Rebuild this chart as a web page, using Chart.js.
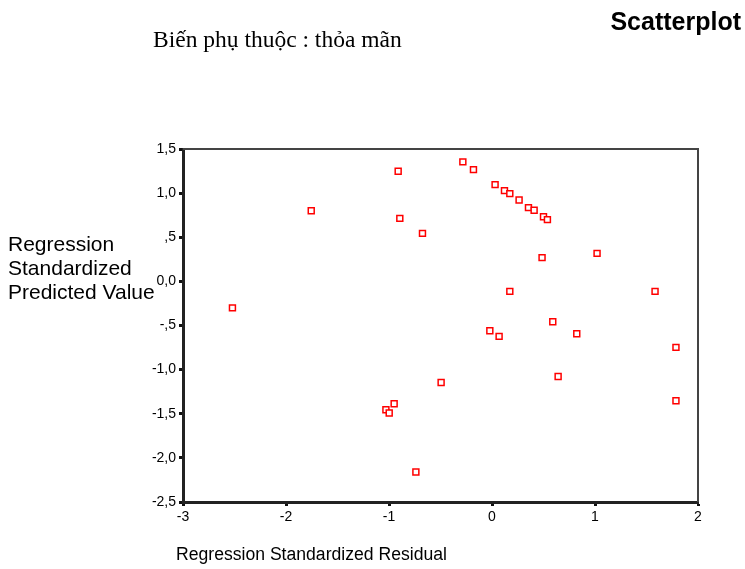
<!DOCTYPE html>
<html>
<head>
<meta charset="utf-8">
<script src="https://cdn.jsdelivr.net/npm/chart.js@4.4.0/dist/chart.umd.min.js"></script>
<style>
  body { margin: 0; background: #fff; }
  #wrap { width: 745px; height: 569px; }
</style>
</head>
<body>
<div id="wrap"><canvas id="scatter" width="745" height="569"></canvas></div>
<script>
// Regression Standardized Residual (x) vs Regression Standardized Predicted Value (y)
const residuals = [
  -2.52, -1.755, -0.911, -0.895, -0.675, -0.283, -0.18, 0.03, 0.121, 0.173,
  0.263, 0.354, 0.409, 0.5, 0.538, 0.486, 1.02, 0.173, 1.583, 0.59,
  -0.021, 0.069, 0.823, 1.786, 0.642, -0.494, 1.786, -1.03, -0.998, -0.95,
  -0.739
];
const predicted = [
  -0.30, 0.80, 1.247, 0.714, 0.544, 1.354, 1.266, 1.096, 1.028, 0.994,
  0.923, 0.836, 0.805, 0.733, 0.70, 0.269, 0.317, -0.113, -0.113, -0.457,
  -0.559, -0.623, -0.593, -0.748, -1.077, -1.145, -1.353, -1.455, -1.492, -1.387,
  -2.161
];
const xTicks = [-3, -2, -1, 0, 1, 2];
const yTicks = [-2.5, -2.0, -1.5, -1.0, -0.5, 0.0, 0.5, 1.0, 1.5];
const yTickLabels = ['-2,5', '-2,0', '-1,5', '-1,0', '-,5', '0,0', ',5', '1,0', '1,5'];

const titleText = 'Biến phụ thuộc : thỏa mãn';
const headerText = 'Scatterplot';
const xTitle = 'Regression Standardized Residual';
const yTitle = ['Regression', 'Standardized', 'Predicted Value'];

const points = residuals.map((r, i) => ({ x: r, y: predicted[i] }));

// frame top/right + free texts
const decor = {
  id: 'decor',
  beforeDatasetsDraw(chart) {
    const { ctx, chartArea: a } = chart;
    ctx.save();
    ctx.strokeStyle = '#444';
    ctx.lineWidth = 2;
    ctx.beginPath();
    ctx.moveTo(a.left, a.top);
    ctx.lineTo(a.right, a.top);
    ctx.lineTo(a.right, a.bottom);
    ctx.stroke();
    ctx.restore();
  },
  afterDraw(chart) {
    const ctx = chart.ctx;
    ctx.save();
    ctx.fillStyle = '#000';
    ctx.textBaseline = 'middle';

    ctx.font = '23.5px "Liberation Serif", "Times New Roman", serif';
    ctx.textAlign = 'left';
    ctx.fillText(titleText, 153, 41);

    ctx.font = 'bold 25px "Liberation Sans", Arial, sans-serif';
    ctx.textAlign = 'right';
    ctx.fillText(headerText, 741, 23);

    ctx.font = '17.6px "Liberation Sans", Arial, sans-serif';
    ctx.textAlign = 'left';
    ctx.fillText(xTitle, 176, 555);

    ctx.font = '21px "Liberation Sans", Arial, sans-serif';
    yTitle.forEach((line, i) => ctx.fillText(line, 8, 245 + i * 24));
    ctx.restore();
  }
};

const tickFont = { family: '"Liberation Sans", Arial, sans-serif', size: 14 };

new Chart(document.getElementById('scatter'), {
  type: 'scatter',
  data: {
    datasets: [{
      data: points,
      pointStyle: 'rect',
      radius: 4.2,
      borderColor: '#ff0000',
      backgroundColor: '#ffffff',
      borderWidth: 1.5
    }]
  },
  options: {
    responsive: false,
    animation: false,
    layout: { padding: { top: 149, right: 47, left: 0, bottom: 0 } },
    plugins: { legend: { display: false }, tooltip: { enabled: false }, title: { display: false } },
    scales: {
      x: {
        type: 'linear',
        min: xTicks[0],
        max: xTicks[xTicks.length - 1],
        afterBuildTicks: s => { s.ticks = xTicks.map(v => ({ value: v })); },
        afterFit: s => { s.height = 67; },
        border: { display: true, color: '#222', width: 3 },
        grid: { drawOnChartArea: false, drawTicks: true, tickLength: 4, tickWidth: 3, tickColor: '#111' },
        ticks: { color: '#000', font: tickFont, padding: 3, maxRotation: 0, callback: v => String(v) }
      },
      y: {
        type: 'linear',
        min: yTicks[0],
        max: yTicks[yTicks.length - 1],
        afterBuildTicks: s => { s.ticks = yTicks.map(v => ({ value: v })); },
        afterFit: s => { s.width = 183; },
        border: { display: true, color: '#222', width: 3 },
        grid: { drawOnChartArea: false, drawTicks: true, tickLength: 4, tickWidth: 3, tickColor: '#111' },
        ticks: { color: '#000', font: tickFont, padding: 3, callback: (v, i) => yTickLabels[i] }
      }
    }
  },
  plugins: [decor]
});
</script>
</body>
</html>
